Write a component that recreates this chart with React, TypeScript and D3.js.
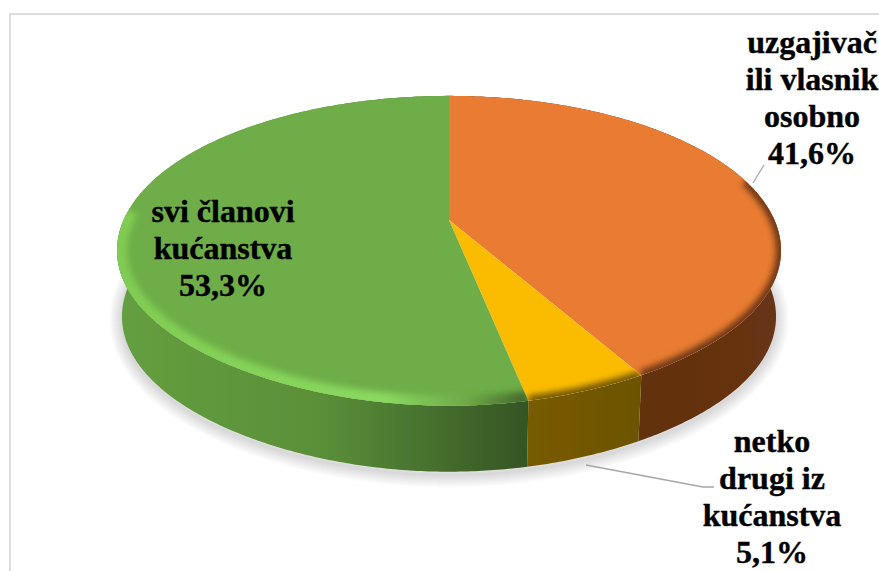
import * as d3 from 'd3';
import React from 'react';

const W = 879;
const H = 571;

const sliceNames = ['orange', 'yellow', 'green'];
const sliceValues = [41.6, 5.1, 53.3];
const topColors = ['#e97c32', '#fbbc00', '#6ead47'];
const rimColors = ['#6b3513', '#6f5400', '#82cc58'];
const wallStops = [
  ['#62300f', '#65330f', '#673414'],
  ['#775b00', '#735700', '#6c5300'],
  ['#649f3f', '#5a8f39', '#355424'],
];
// which part of each slice's rim gets the bevel, in degrees
const rimStart = [74, 149.8, 168.1];
const rimEnd = [149.8, 168.1, 274];

const labelLines = [
  ['uzgajivač', 'ili vlasnik', 'osobno', '41,6%'],
  ['netko', 'drugi iz', 'kućanstva', '5,1%'],
  ['svi članovi', 'kućanstva', '53,3%'],
];
const labelX = [812, 772, 223];
const labelY = [53, 452, 222];
const leaderLines = [
  [[753, 183], [764, 165]],
  [[586, 465], [703, 487], [714, 487]],
];

// pie apex and perspective of the tilted disc
const cx = 449;
const cy = 220;
const persp = -0.1987;
const ay = 148.8;
const ax = 325.4;
const depth = 66;
const bottomScale = 0.985;

const project = (a: number, s = 1, dy = 0): [number, number] => {
  const t = -Math.cos(a);
  const den = 1 + persp * t;
  // the front of the disc is a little narrower than a true ellipse
  const narrow = 1 - 0.05 * Math.pow(Math.max(0, t), 4);
  return [cx + (s * narrow * ax * Math.sin(a)) / den, cy + dy + (ay * t) / den];
};

const arcAngles = (a0: number, a1: number) => {
  const n = Math.max(2, Math.ceil((a1 - a0) / 0.01));
  return d3.range(n + 1).map((i) => a0 + ((a1 - a0) * i) / n);
};

const line = d3.line<[number, number]>();
const rad = (d: number) => (d * Math.PI) / 180;

const slices = d3.pie<number>().sort(null)(sliceValues);

const sectorPath = (s: d3.PieArcDatum<number>) =>
  line([[cx, cy], ...arcAngles(s.startAngle, s.endAngle).map((a) => project(a))]) + 'Z';

const blur = (id: string, sd: number) => (
  <filter id={id} filterUnits="userSpaceOnUse" x={0} y={0} width={W} height={H}>
    <feGaussianBlur stdDeviation={sd} />
  </filter>
);

export default function App() {
  const fullCircle = arcAngles(0, Math.PI * 2);
  const shadowPath = line(fullCircle.map((a) => project(a, bottomScale, depth + 3))) + 'Z';
  const gradX = d3.scaleLinear().domain([0, 1]).range([118, 781]);

  return (
    <svg
      width={W}
      height={H}
      style={{ position: 'absolute', left: 0, top: 0, display: 'block', background: '#fff' }}
    >
      <defs>
        {blur('rimBlur', 3)}
        {blur('wallBlur', 0.7)}
        {slices.map((s, i) => (
          <clipPath id={`top-${sliceNames[i]}`} key={i}>
            <path d={sectorPath(s)} />
          </clipPath>
        ))}
        {slices.map((s, i) => {
          const xs = arcAngles(s.startAngle, s.endAngle)
            .filter((a) => Math.cos(a) < 0.1)
            .map((a) => project(a)[0]);
          const [x0, x1] = i === 2 ? [gradX(0), project(s.startAngle)[0]] : d3.extent(xs);
          return (
            <linearGradient
              id={`wall-${sliceNames[i]}`}
              key={i}
              gradientUnits="userSpaceOnUse"
              x1={x0}
              x2={x1}
              y1={0}
              y2={0}
            >
              {wallStops[i].map((c, k) => (
                <stop key={k} offset={k / (wallStops[i].length - 1)} stopColor={c} />
              ))}
            </linearGradient>
          );
        })}
        <linearGradient
          id="rim-green"
          gradientUnits="userSpaceOnUse"
          x1={gradX(0)}
          x2={project(slices[2].startAngle)[0]}
          y1={0}
          y2={0}
        >
          <stop offset="0" stopColor="#80cc52" />
          <stop offset="0.65" stopColor="#8ad960" />
          <stop offset="0.85" stopColor="#6fa948" />
          <stop offset="1" stopColor="#42662a" />
        </linearGradient>
      </defs>

      <rect x={10} y={14} width={W} height={H} fill="none" stroke="#dcdcdc" strokeWidth={2} />

      {/* soft shadow under the disc, stacked strokes */}
      {d3.range(2, 28, 2).map((sw) => (
        <path key={sw} d={shadowPath} fill="none" stroke="#000" strokeOpacity={0.013} strokeWidth={sw} />
      ))}

      {/* side wall */}
      {slices.map((s, i) => {
        const angles = arcAngles(s.startAngle, s.endAngle);
        const pts = [
          ...angles.map((a) => project(a)),
          ...angles
            .slice()
            .reverse()
            .map((a) => project(a, bottomScale, depth)),
        ];
        return (
          <path key={i} d={line(pts) + 'Z'} fill={`url(#wall-${sliceNames[i]})`} filter="url(#wallBlur)" />
        );
      })}

      {/* top face */}
      {slices.map((s, i) => (
        <path key={i} d={sectorPath(s)} fill={topColors[i]} />
      ))}

      {/* bevel along the rim */}
      {slices.map((s, i) => (
        <g key={i} clipPath={`url(#top-${sliceNames[i]})`}>
          <path
            d={line(arcAngles(rad(rimStart[i]), rad(rimEnd[i])).map((a) => project(a))) as string}
            fill="none"
            stroke={i === 2 ? 'url(#rim-green)' : rimColors[i]}
            strokeWidth={i === 2 ? 20 : 10}
            filter="url(#rimBlur)"
          />
        </g>
      ))}

      {leaderLines.map((pts, i) => (
        <path
          key={i}
          d={line(pts as [number, number][]) as string}
          fill="none"
          stroke="#a6a6a6"
          strokeWidth={1.3}
        />
      ))}

      {labelLines.map((lines, i) => (
        <text
          key={i}
          textAnchor="middle"
          fontFamily="'Liberation Serif', serif"
          fontWeight="bold"
          fontSize={32}
          fill="#000"
          stroke="#000"
          strokeWidth={0.4}
        >
          {lines.map((t, k) => (
            <tspan key={k} x={labelX[i]} y={labelY[i] + k * 37}>
              {t}
            </tspan>
          ))}
        </text>
      ))}
    </svg>
  );
}
